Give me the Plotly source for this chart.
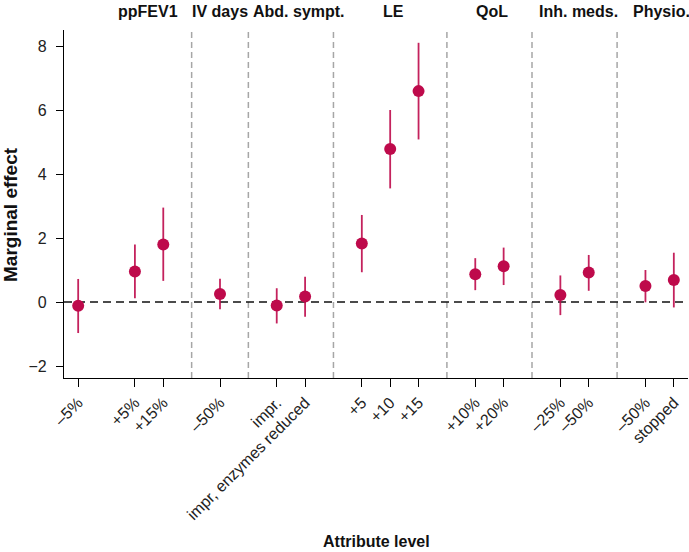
import plotly.graph_objects as go

# ---- data ----
attributes = ["ppFEV1", "IV days", "Abd. sympt.", "LE", "QoL", "Inh. meds.", "Physio."]
# None marks the omitted reference slot of ppFEV1
level_labels = [
    ["–5%", None, "+5%", "+15%"],
    ["–50%"],
    ["impr.", "impr, enzymes reduced"],
    ["+5", "+10", "+15"],
    ["+10%", "+20%"],
    ["–25%", "–50%"],
    ["–50%", "stopped"],
]
effects = [
    [-0.12, None, 0.95, 1.80],
    [0.25],
    [-0.11, 0.17],
    [1.83, 4.78, 6.59],
    [0.87, 1.12],
    [0.22, 0.92],
    [0.50, 0.69],
]
ci_low = [
    [-0.97, None, 0.12, 0.66],
    [-0.23],
    [-0.67, -0.46],
    [0.93, 3.55, 5.08],
    [0.37, 0.53],
    [-0.41, 0.35],
    [-0.01, -0.17],
]
ci_high = [
    [0.72, None, 1.80, 2.95],
    [0.73],
    [0.43, 0.79],
    [2.72, 6.00, 8.10],
    [1.37, 1.70],
    [0.83, 1.47],
    [1.00, 1.54],
]
y_ticks = [-2, 0, 2, 4, 6, 8]

# ---- layout helpers ----
header_shift = [0.95, 0.0, 0.3, 0.1, 0.1, 0.15, 0.05]
FONT = "Liberation Sans, Arial, sans-serif"
DOT = "#BE0A4B"
BAR = "rgba(190,10,75,0.9)"

xs, ys, lo, hi, tickvals, ticktext = [], [], [], [], [], []
separators, centers = [], []
pos = 0
for gi, labs in enumerate(level_labels):
    start = pos
    for li, lab in enumerate(labs):
        if lab is not None:
            v = effects[gi][li]
            xs.append(pos)
            ys.append(v)
            hi.append(ci_high[gi][li] - v)
            lo.append(v - ci_low[gi][li])
            tickvals.append(pos)
            ticktext.append(lab)
        pos += 1
    centers.append((start + pos - 1) / 2 + header_shift[gi])
    if gi < len(level_labels) - 1:
        separators.append(pos)
        pos += 1

fig = go.Figure()
fig.add_trace(go.Scatter(
    x=xs, y=ys, mode="markers",
    marker=dict(color=DOT, size=12, line=dict(width=0)),
    error_y=dict(type="data", symmetric=False, array=hi, arrayminus=lo,
                 color=BAR, thickness=1.8, width=0),
    showlegend=False,
))

shapes = []
for s in separators:
    shapes.append(dict(type="line", xref="x", yref="paper", x0=s, x1=s, y0=0, y1=1,
                       line=dict(color="#A6A6A6", width=1.5, dash="6px,4px"), layer="below"))
shapes.append(dict(type="line", xref="paper", yref="y", x0=0, x1=1, y0=0, y1=0,
                   line=dict(color="#111111", width=1.3, dash="8px,5px"), layer="below"))

annotations = []
for name, c in zip(attributes, centers):
    annotations.append(dict(text="<b>%s</b>" % name, x=c, xref="x", y=1.052, yref="paper",
                            showarrow=False, xanchor="center", yanchor="middle",
                            font=dict(family=FONT, size=16, color="#111")))
annotations.append(dict(text="<b>Marginal effect</b>", textangle=-90, x=(11 - 64) / 624, xref="paper",
                        y=(378 - 215) / 348, yref="paper", showarrow=False,
                        xanchor="center", yanchor="middle",
                        font=dict(family=FONT, size=19, color="#111")))
annotations.append(dict(text="<b>Attribute level</b>", x=0.5, xref="paper",
                        y=-(541 - 378) / 348, yref="paper", showarrow=False,
                        xanchor="center", yanchor="middle",
                        font=dict(family=FONT, size=16, color="#111")))

fig.update_layout(
    width=689, height=552, autosize=False,
    margin=dict(l=64, r=1, t=30, b=174),
    paper_bgcolor="white", plot_bgcolor="white",
    font=dict(family=FONT, size=15, color="#222"),
    shapes=shapes, annotations=annotations,
    xaxis=dict(range=[-0.5, pos - 0.5], tickmode="array", tickvals=tickvals, ticktext=ticktext,
               tickangle=-45, showgrid=False, zeroline=False, showline=True,
               linecolor="black", linewidth=1.3, ticks="outside", ticklen=8,
               tickcolor="black", tickwidth=1.3, tickfont=dict(family=FONT, size=16, color="#222")),
    yaxis=dict(range=[-2.375, 8.5], tickmode="array", tickvals=y_ticks,
               showgrid=False, zeroline=False, showline=True, linecolor="black",
               linewidth=1.3, ticks="outside", ticklen=7, tickcolor="black", tickwidth=1.3,
               ticklabelstandoff=6,
               tickfont=dict(family=FONT, size=16, color="#222")),
)

fig.write_html("out.html", config={"displayModeBar": False},
               post_script="document.body.style.margin='0px';")
